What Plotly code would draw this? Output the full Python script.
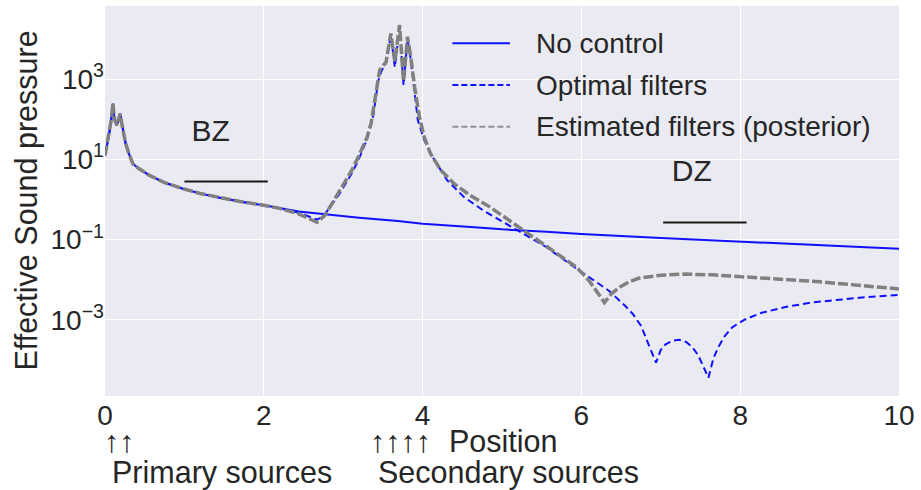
import plotly.graph_objects as go

# Effective sound pressure along the line, three control cases
x_nocontrol = [0.0, 0.05, 0.08, 0.10, 0.12, 0.15, 0.19, 0.22, 0.26, 0.30, 0.35, 0.42, 0.56, 0.75,
               0.98, 1.2, 1.4, 1.7, 2.02, 2.44, 2.73, 3.2, 3.69, 4.0, 4.7, 5.0, 5.56, 6.0, 7.0,
               8.0, 9.0, 10.0]
p_nocontrol = [12.6, 39.8, 100, 245, 100, 70.8, 138, 63, 25, 14.1, 7.8, 6.0, 4.0, 2.63,
               1.86, 1.41, 1.15, 0.89, 0.71, 0.5, 0.43, 0.35, 0.29, 0.25, 0.2, 0.18, 0.158, 0.138, 0.11,
               0.089, 0.072, 0.059]

x_optimal = [0.0, 0.05, 0.08, 0.10, 0.12, 0.15, 0.19, 0.22, 0.26, 0.30, 0.35, 0.42, 0.56, 0.75,
             0.98, 1.2, 1.4, 1.7, 2.02, 2.2, 2.44, 2.6, 2.67, 2.75, 2.94, 3.1, 3.19, 3.3, 3.38,
             3.44, 3.48, 3.54, 3.60, 3.65, 3.71, 3.76, 3.81, 3.85, 3.90, 3.94, 4.02, 4.15, 4.31,
             4.52, 4.77, 5.06, 5.27, 5.56, 5.85, 6.10, 6.35, 6.55, 6.65, 6.75, 6.81, 6.87,
             6.94, 7.0, 7.06, 7.15, 7.23, 7.32, 7.4, 7.47, 7.52, 7.6, 7.66, 7.72, 7.8, 7.9, 8.05,
             8.27, 8.6, 8.9, 9.5, 10.0]
p_optimal = [12.6, 39.8, 100, 245, 100, 70.8, 138, 63, 25, 14.1, 7.8, 6.0, 4.0, 2.63,
             1.86, 1.41, 1.15, 0.89, 0.71, 0.6, 0.47, 0.355, 0.316, 0.38, 1.26, 4.2, 9.5, 31.6, 126,
             891, 1585, 2512, 12590, 1995, 19950, 708, 10000, 3162, 501, 95.5, 30.2, 9.55, 3.02,
             1.15, 0.525, 0.245, 0.138, 0.0646, 0.0251, 0.0115, 0.00525, 0.00224, 0.00138,
             7.1e-4, 3.6e-4, 1.78e-4, 8.5e-5, 1.78e-4, 2.45e-4, 3.0e-4, 3.16e-4, 2.8e-4, 2.04e-4,
             1.32e-4, 7.8e-5, 3.6e-5, 1.05e-4, 2.0e-4, 3.8e-4, 6.5e-4, 1.0e-3,
             1.5e-3, 2.14e-3, 2.7e-3, 3.55e-3, 4.2e-3]

x_estimated = [0.0, 0.05, 0.08, 0.10, 0.12, 0.15, 0.19, 0.22, 0.26, 0.30, 0.35, 0.42, 0.56, 0.75,
               0.98, 1.2, 1.4, 1.7, 2.02, 2.2, 2.44, 2.67, 2.77, 2.94, 3.1, 3.19, 3.3, 3.35,
               3.44, 3.46, 3.54, 3.60, 3.65, 3.71, 3.76, 3.81, 3.85, 3.90, 3.96, 4.02, 4.10, 4.23,
               4.40, 4.60, 4.85, 5.10, 5.27, 5.52, 5.77, 5.94, 6.10, 6.29, 6.38, 6.48, 6.6, 6.73,
               7.0, 7.3, 7.65, 8.0, 8.48, 9.0, 9.31, 10.0]
p_estimated = [12.6, 39.8, 100, 245, 100, 70.8, 138, 63, 25, 14.1, 7.8, 6.0, 4.0, 2.63,
               1.86, 1.41, 1.15, 0.89, 0.71, 0.6, 0.437, 0.27, 0.4, 1.5, 5.0, 11.5, 35.5, 77.6,
               955, 1700, 2690, 13800, 2820, 22390, 891, 11480, 3630, 631, 115, 36.3, 13.8, 5.37,
               2.45, 1.26, 0.646, 0.295, 0.166, 0.0776, 0.0363, 0.0204, 0.0093, 0.0027, 0.0045,
               0.0065, 0.0089, 0.011, 0.0129, 0.0138, 0.0132, 0.012, 0.0105, 0.0089, 0.0078, 0.0059]

# Bright zone / dark zone markers
zone_names = ["BZ", "DZ"]
zone_label_x = [1.33, 7.39]
zone_label_p = [44.7, 4.4]
bz_span = [1.0, 2.05]
bz_level = [2.8, 2.8]
dz_span = [7.03, 8.08]
dz_level = [0.266, 0.266]

series_names = ["No control", "Optimal filters", "Estimated filters (posterior)"]
y_tick_exponents = [-3, -1, 1, 3]
x_ticks = [0, 2, 4, 6, 8, 10]

FONT = "Liberation Sans, Arial, sans-serif"
TXT = "#262626"

fig = go.Figure()
fig.add_trace(go.Scatter(x=x_nocontrol, y=p_nocontrol, mode="lines", name=series_names[0],
                         line=dict(color="#1010ff", width=2)))
fig.add_trace(go.Scatter(x=x_optimal, y=p_optimal, mode="lines", name=series_names[1],
                         line=dict(color="#1010ff", width=2, dash="7px,4px")))
fig.add_trace(go.Scatter(x=x_estimated, y=p_estimated, mode="lines", name=series_names[2],
                         line=dict(color="#808080", width=3.5, dash="10px,3px")))

fig.add_trace(go.Scatter(x=bz_span, y=bz_level, mode="lines", showlegend=False,
                         line=dict(color="#1a1a1a", width=2)))
fig.add_trace(go.Scatter(x=dz_span, y=dz_level, mode="lines", showlegend=False,
                         line=dict(color="#1a1a1a", width=2)))
fig.add_trace(go.Scatter(x=zone_label_x, y=zone_label_p, mode="text", text=zone_names,
                         textposition="middle center", showlegend=False,
                         textfont=dict(family=FONT, size=30, color=TXT)))

# Legend drawn by hand: a long line sample followed by the label
legend_y = [0.9044, 0.7974, 0.6905]
legend_styles = [dict(color="#1010ff", width=2),
                 dict(color="#1010ff", width=2, dash="6px,3px"),
                 dict(color="#909090", width=2, dash="6px,3px")]
shapes = []
annotations = []
for name, yy, st in zip(series_names, legend_y, legend_styles):
    shapes.append(dict(type="line", xref="paper", yref="paper", x0=0.4375, x1=0.51,
                       y0=yy, y1=yy, line=st))
    annotations.append(dict(xref="paper", yref="paper", x=0.54, y=yy, text=name,
                            showarrow=False, xanchor="left", yanchor="middle",
                            font=dict(family=FONT, size=28, color=TXT)))

# Axis titles and source markers below the axis
annotations.append(dict(xref="paper", yref="paper", x=-0.1, y=0.5, text="Effective Sound pressure",
                        textangle=-90, showarrow=False, xanchor="center", yanchor="middle",
                        font=dict(family=FONT, size=30.5, color=TXT)))
for txt, xx, yy in [("↑↑", -0.004, -0.1154), ("↑↑↑↑", 0.331, -0.1154), ("Position", 0.431, -0.1154),
                    ("Primary sources", 0.00625, -0.197), ("Secondary sources", 0.341, -0.197)]:
    annotations.append(dict(xref="paper", yref="paper", x=xx, y=yy, text=txt, showarrow=False,
                            xanchor="left", yanchor="middle",
                            font=dict(family=FONT, size=30.5, color=TXT)))

fig.update_layout(
    width=921, height=490, autosize=False,
    margin=dict(l=105, r=16, t=6, b=94),
    paper_bgcolor="white", plot_bgcolor="#EAEAF2",
    showlegend=False,
    shapes=shapes, annotations=annotations,
    font=dict(family=FONT, color=TXT),
)
fig.update_xaxes(range=[0, 10], tickvals=x_ticks, ticktext=[str(t) for t in x_ticks],
                 showgrid=True, gridcolor="white", gridwidth=1.3, zeroline=False,
                 showline=False, ticks="", tickfont=dict(family=FONT, size=28, color=TXT))
fig.update_yaxes(type="log", range=[-4.9, 4.825],
                 tickvals=[10.0 ** e for e in y_tick_exponents],
                 ticktext=["10<sup>%s</sup>" % str(e).replace("-", "−") for e in y_tick_exponents],
                 showgrid=True, gridcolor="white", gridwidth=1.3, zeroline=False,
                 showline=False, ticks="", tickfont=dict(family=FONT, size=28, color=TXT))

fig.write_html("out.html")
